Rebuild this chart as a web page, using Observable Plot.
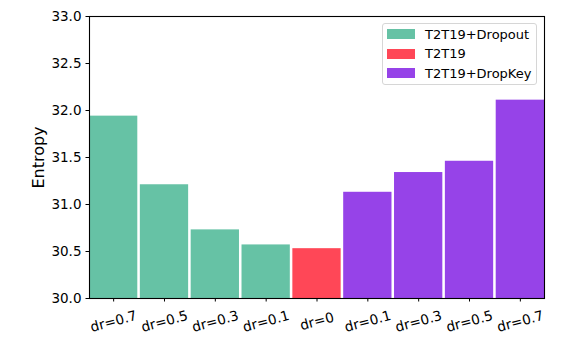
<!DOCTYPE html>
<html>
<head>
<meta charset="utf-8">
<script src="https://cdn.jsdelivr.net/npm/d3@7"></script>
<script src="https://cdn.jsdelivr.net/npm/@observablehq/plot@0.6"></script>
<style>
  html, body { margin: 0; padding: 0; background: #fff; }
  #wrap { position: relative; width: 570px; height: 358px; font-family: "DejaVu Sans", sans-serif; }
  #legend { position: absolute; left: 382px; top: 23px; width: 153px; height: 60px;
            border: 1px solid #d6d6d6; border-radius: 3px; background: rgba(255,255,255,0.8);
            font-size: 13px; color: #000; }
  .item { position: absolute; left: 4px; height: 20px; display: flex; align-items: center; }
  .sw { width: 28px; height: 10px; margin-right: 10px; }
</style>
</head>
<body>
<div id="wrap"></div>
<script>
const labels = ["dr=0.7","dr=0.5","dr=0.3","dr=0.1","dr=0","dr=0.1","dr=0.3","dr=0.5","dr=0.7"];
const values = [31.94, 31.21, 30.73, 30.57, 30.53, 31.13, 31.34, 31.46, 32.11];
const groups = ["T2T19+Dropout","T2T19+Dropout","T2T19+Dropout","T2T19+Dropout","T2T19","T2T19+DropKey","T2T19+DropKey","T2T19+DropKey","T2T19+DropKey"];
const seriesNames = ["T2T19+Dropout","T2T19","T2T19+DropKey"];
const seriesColors = ["#66c2a5","#ff4757","#9643e8"];
const yTicks = [30.0, 30.5, 31.0, 31.5, 32.0, 32.5, 33.0];
const yLabel = "Entropy";
const baseline = 30;

const data = labels.map((l, i) => ({i, label: l, value: values[i], group: groups[i]}));
const idx = labels.map((_, i) => i);

const chart = Plot.plot({
  width: 570,
  height: 358,
  marginLeft: 89,
  marginRight: 26,
  marginTop: 16,
  marginBottom: 60,
  style: {fontFamily: "DejaVu Sans, sans-serif", fontSize: "13.5px", color: "#000", background: "#fff"},
  x: {type: "band", domain: idx, paddingInner: 0.05, paddingOuter: 0, align: 0.5, round: false},
  y: {domain: [30, 33]},
  color: {domain: seriesNames, range: seriesColors},
  marks: [
    Plot.barY(data, {x: "i", y1: () => baseline, y2: "value", fill: "group"}),
    Plot.frame({stroke: "#000", strokeWidth: 1.1}),
    Plot.axisY({ticks: yTicks, tickFormat: d3.format(".1f"), tickSize: 3.5, tickPadding: 4.5, label: null, stroke: "#000", strokeWidth: 1}),
    Plot.axisX({tickSize: 3.5, tickFormat: () => "", label: null, stroke: "#000", strokeWidth: 1}),
    Plot.text(data, {x: "i", text: "label", frameAnchor: "bottom", dy: 23, rotate: -15, textAnchor: "middle", lineAnchor: "middle", fontSize: 13.7, fill: "#000"}),
    Plot.text([yLabel], {frameAnchor: "left", dx: -51, rotate: -90, textAnchor: "middle", lineAnchor: "middle", fontSize: 16, fill: "#000"})
  ]
});

const wrap = document.getElementById("wrap");
wrap.appendChild(chart);

const legend = document.createElement("div");
legend.id = "legend";
seriesNames.forEach((name, k) => {
  const item = document.createElement("div");
  item.className = "item";
  item.style.top = (0 + k * 19.5) + "px";
  const sw = document.createElement("span");
  sw.className = "sw";
  sw.style.background = seriesColors[k];
  const tx = document.createElement("span");
  tx.textContent = name;
  item.appendChild(sw);
  item.appendChild(tx);
  legend.appendChild(item);
});
wrap.appendChild(legend);
</script>
</body>
</html>
